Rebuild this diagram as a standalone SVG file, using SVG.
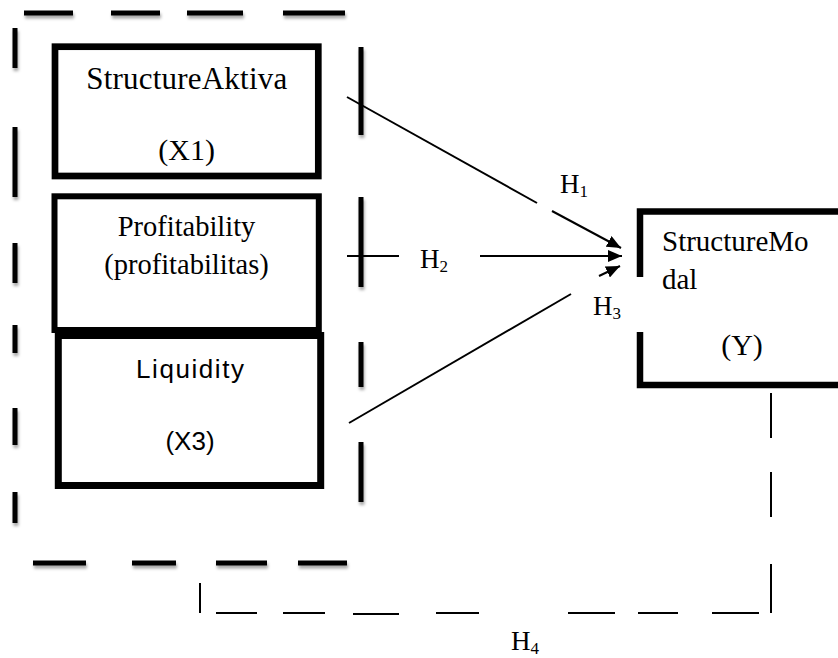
<svg xmlns="http://www.w3.org/2000/svg" width="838" height="658" viewBox="0 0 838 658">
<defs>
<filter id="sh" filterUnits="userSpaceOnUse" x="0" y="0" width="838" height="658">
<feDropShadow dx="1" dy="3" stdDeviation="1.5" flood-color="#000" flood-opacity="0.35"/>
</filter>
<marker id="ah" markerUnits="userSpaceOnUse" markerWidth="14" markerHeight="12" refX="14" refY="6" orient="auto">
<path d="M0,0 L14,6 L0,12 Z" fill="#000"/>
</marker>
</defs>
<style>
.fd{stroke:#000;stroke-width:5;fill:none;filter:url(#sh)}
.box{fill:#fff;stroke:#000}
.serif{font-family:"Liberation Serif","Times New Roman",serif;fill:#000}
.sans{font-family:"Liberation Sans",Arial,sans-serif;fill:#000}
.ar{stroke:#000;stroke-width:2;fill:none}
.thin{stroke:#000;stroke-width:2;fill:none}
.hl{font-family:"Liberation Serif","Times New Roman",serif;font-size:27px;fill:#000}
.sub{font-size:17px}
</style>
<rect width="838" height="658" fill="#fff"/>

<g id="frame">
<path class="fd" d="M24,13H73M111,13H160M187,13H243M283,13H345"/>
<path class="fd" d="M15,28V68M15,127V197M15,243V283M15,325V353M15,408V445M15,492V523"/>
<path class="fd" d="M361,47V135M361,197V287M361,342V387M361,442V502"/>
<path class="fd" d="M33,563H86M132,563H176M216,563H267M298,563H347"/>
</g>

<g id="node-x1">
<rect class="box" x="55" y="46.7" width="263.3" height="129.3" stroke-width="6.7"/>
<text class="serif" x="186.7" y="89" font-size="31" text-anchor="middle" textLength="201">StructureAktiva</text>
<text class="serif" x="186.7" y="160" font-size="30" text-anchor="middle">(X1)</text>
</g>

<g id="node-x2">
<rect class="box" x="54.5" y="196.3" width="264.3" height="133.7" stroke-width="6"/>
<text class="serif" x="186.5" y="236" font-size="28.5" text-anchor="middle">Profitability</text>
<text class="serif" x="186.5" y="274" font-size="28.5" text-anchor="middle">(profitabilitas)</text>
</g>

<g id="node-x3">
<rect class="box" x="58.3" y="335.5" width="262.4" height="150" stroke-width="7"/>
<text class="sans" x="190" y="378" font-size="26" text-anchor="middle" textLength="108">Liquidity</text>
<text class="sans" x="190" y="450" font-size="26" text-anchor="middle">(X3)</text>
</g>

<g id="node-y">
<path d="M640,277V211.5H845M640,332V385H845" fill="none" stroke="#000" stroke-width="6.5"/>
<text class="serif" x="662" y="251" font-size="29">StructureMo</text>
<text class="serif" x="662" y="289" font-size="29">dal</text>
<text class="serif" x="742" y="355" font-size="30" text-anchor="middle">(Y)</text>
</g>

<g id="connectors">
<path class="ar" d="M347,97L537,203"/>
<path class="ar" d="M552,211L621,248" marker-end="url(#ah)"/>
<path class="ar" d="M347,256H399"/>
<path class="ar" d="M480,256H622" marker-end="url(#ah)"/>
<path class="ar" d="M349,423L571,294"/>
<path class="ar" d="M599,276L620,266" marker-end="url(#ah)"/>
<path class="thin" d="M771,393V438M771,472V517M771,564V613"/>
<path class="thin" d="M200,583V613"/>
<path class="thin" d="M216,613H257M283,613H325M353,614H399M436,613H479M568,613H615M638,613H678M712,613H759"/>
<text class="hl" x="560" y="193">H<tspan class="sub" dy="4">1</tspan></text>
<text class="hl" x="420" y="268">H<tspan class="sub" dy="4">2</tspan></text>
<text class="hl" x="593" y="315">H<tspan class="sub" dy="4">3</tspan></text>
<text class="hl" x="511" y="650">H<tspan class="sub" dy="4">4</tspan></text>
</g>
</svg>
